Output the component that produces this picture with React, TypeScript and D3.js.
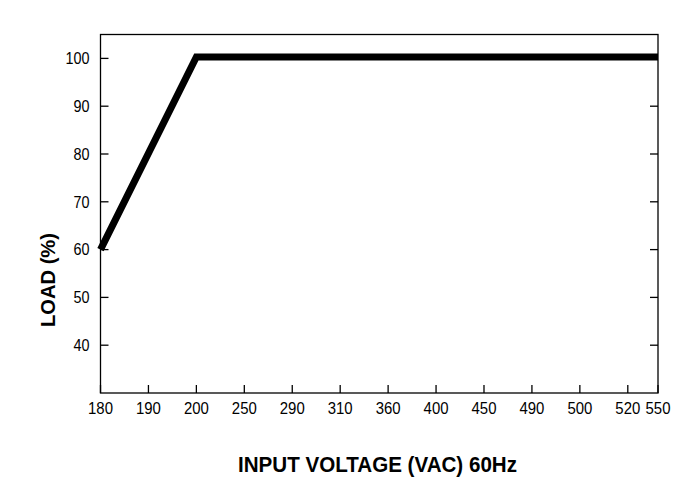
import React from 'react';
import * as d3 from 'd3';

// x axis is categorical: evenly spaced voltages, last label sits short of a full step
const voltages = ['180', '190', '200', '250', '290', '310', '360', '400', '450', '490', '500', '520', '550'];
const yTicks = [40, 50, 60, 70, 80, 90, 100];
// derating curve: load (%) vs input voltage
const curveVolts = ['180', '200', '550'];
const curveLoad = [60, 100.3, 100.3];

const WIDTH = 693;
const HEIGHT = 497;
const margin = { l: 100.5, r: 35, t: 34.5, b: 104 };
const LAST_STEP = 11.63;
const FONT = "'Liberation Sans', Arial, sans-serif";
const DIGIT_W = 8; // labels in the source are a bit condensed

const App = () => {
  const w = WIDTH - margin.l - margin.r;
  const h = HEIGHT - margin.t - margin.b;

  const stepOf = (v: string) => {
    const i = voltages.indexOf(v);
    return i === voltages.length - 1 ? LAST_STEP : i;
  };
  const xScale = d3.scaleLinear().domain([0, LAST_STEP]).range([0, w]);
  const yScale = d3.scaleLinear().domain([30, 105]).range([h, 0]);

  const pts: [number, number][] = curveVolts.map((v, i) => [stepOf(v), curveLoad[i]]);
  const line = d3
    .line<[number, number]>()
    .x((d) => xScale(d[0]))
    .y((d) => yScale(d[1]));

  return (
    <svg
      width={WIDTH}
      height={HEIGHT}
      viewBox={`0 0 ${WIDTH} ${HEIGHT}`}
      style={{ position: 'absolute', left: 0, top: 0, background: '#fff' }}
    >
      <g transform={`translate(${margin.l}, ${margin.t})`}>
        {yTicks.map((t) => (
          <g key={t}>
            <line x1={0} x2={8} y1={yScale(t)} y2={yScale(t)} stroke="#000" strokeWidth={1.3} />
            <line x1={w - 8} x2={w} y1={yScale(t)} y2={yScale(t)} stroke="#000" strokeWidth={1.3} />
            <text
              x={-11}
              y={yScale(t)}
              dy="0.36em"
              textAnchor="end"
              fontFamily={FONT}
              fontSize={16}
              fill="#000"
              textLength={String(t).length * DIGIT_W}
              lengthAdjust="spacingAndGlyphs"
            >
              {t}
            </text>
          </g>
        ))}
        {voltages.map((v) => (
          <g key={v}>
            <line x1={xScale(stepOf(v))} x2={xScale(stepOf(v))} y1={h} y2={h - 8} stroke="#000" strokeWidth={1.3} />
            <text
              x={xScale(stepOf(v))}
              y={h + 20.5}
              textAnchor="middle"
              fontFamily={FONT}
              fontSize={16}
              fill="#000"
              textLength={v.length * 8.3}
              lengthAdjust="spacingAndGlyphs"
            >
              {v}
            </text>
          </g>
        ))}
        <path d={line(pts) || ''} stroke="#000" strokeWidth={7} fill="none" strokeLinejoin="miter" />
        <rect x={0} y={0} width={w} height={h} fill="none" stroke="#000" strokeWidth={1.3} />
      </g>
      <text
        transform="translate(54.5, 280) rotate(-90)"
        textAnchor="middle"
        fontFamily={FONT}
        fontSize={21}
        fontWeight="bold"
        fill="#000"
        textLength={94}
        lengthAdjust="spacingAndGlyphs"
      >
        LOAD (%)
      </text>
      <text
        x={377.5}
        y={472}
        textAnchor="middle"
        fontFamily={FONT}
        fontSize={22}
        fontWeight="bold"
        fill="#000"
        textLength={279}
        lengthAdjust="spacingAndGlyphs"
      >
        INPUT VOLTAGE (VAC) 60Hz
      </text>
    </svg>
  );
};

export default App;
